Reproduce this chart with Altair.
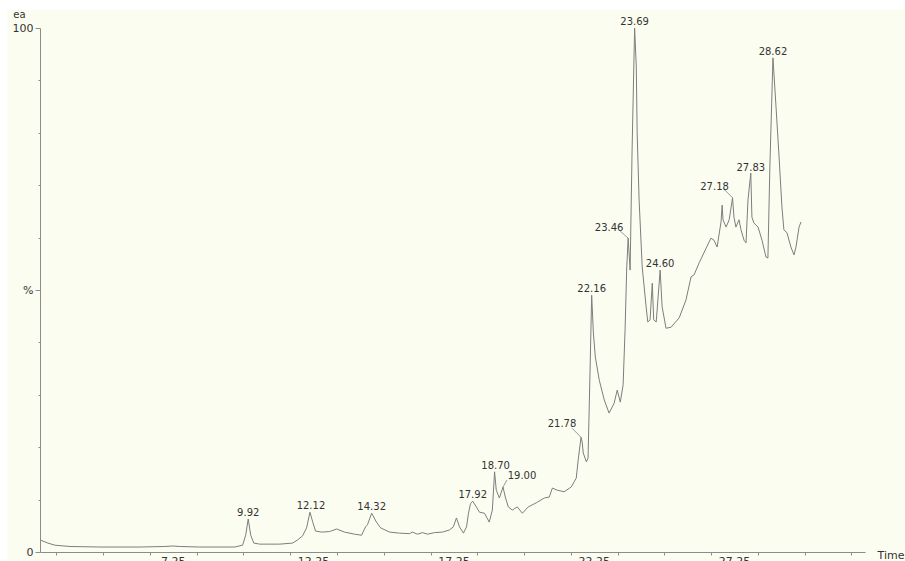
import altair as alt
import pandas as pd

# Chromatogram trace: retention time (min) and relative abundance (%)
rt_min = [
    2.50, 2.78, 3.03, 3.57, 4.64, 6.06, 6.95, 7.23, 7.48, 8.19, 9.44, 9.72, 9.83, 9.92,
    10.01, 10.12, 10.33, 11.04, 11.50, 11.68, 11.86, 12.00, 12.12, 12.22, 12.32, 12.54,
    12.82, 13.07, 13.35, 13.71, 13.96, 14.10, 14.17, 14.32, 14.49, 14.64, 14.96, 15.31,
    15.67, 15.77, 15.95, 16.13, 16.31, 16.56, 16.84, 17.09, 17.23, 17.34, 17.45, 17.59,
    17.70, 17.77, 17.84, 17.92, 18.05, 18.16, 18.34, 18.51, 18.62, 18.70, 18.76, 18.87,
    19.00, 19.08, 19.19, 19.33, 19.51, 19.69, 19.90, 20.19, 20.47, 20.65, 20.76, 20.93,
    21.18, 21.43, 21.61, 21.68, 21.78, 21.82, 21.86, 21.97, 22.03, 22.10, 22.16, 22.22,
    22.29, 22.43, 22.61, 22.78, 22.96, 23.07, 23.18, 23.28, 23.35, 23.41, 23.46, 23.53,
    23.60, 23.69, 23.75, 23.78, 23.85, 23.96, 24.10, 24.16, 24.24, 24.32, 24.37, 24.46,
    24.60, 24.67, 24.81, 24.99, 25.28, 25.52, 25.70, 25.81, 25.99, 26.09, 26.24, 26.41,
    26.52, 26.63, 26.77, 26.81, 26.84, 26.95, 27.06, 27.18, 27.23, 27.30, 27.41, 27.48,
    27.59, 27.66, 27.73, 27.83, 27.87, 27.94, 28.09, 28.23, 28.37, 28.44, 28.51, 28.62,
    28.73, 28.83, 28.94, 29.01, 29.12, 29.26, 29.37, 29.44, 29.55, 29.62,
]
abundance = [
    2.3, 1.7, 1.3, 1.05, 0.95, 0.95, 1.05, 1.15, 1.05, 0.95, 0.95, 1.3, 3.2, 6.3,
    3.2, 1.7, 1.5, 1.5, 1.7, 2.3, 3.1, 4.6, 7.6, 5.7, 4.0, 3.8,
    3.9, 4.4, 3.8, 3.4, 3.2, 4.8, 5.2, 7.4, 5.7, 4.6, 3.8, 3.6,
    3.5, 3.8, 3.4, 3.7, 3.4, 3.7, 3.8, 4.2, 4.8, 6.5, 4.8, 3.6,
    4.8, 7.4, 9.2, 9.7, 8.6, 7.6, 7.4, 5.7, 8.0, 15.3, 11.8, 10.3,
    12.4, 10.5, 8.6, 8.0, 8.6, 7.4, 8.6, 9.4, 10.3, 10.5, 12.2, 11.8,
    11.5, 12.4, 14.1, 17.6, 21.9, 21.0, 18.9, 17.2, 17.9, 34.2, 49.0, 41.8,
    37.2, 32.8, 29.0, 26.5, 28.4, 30.9, 28.6, 31.9, 42.4, 54.4, 59.9, 53.8,
    76.7, 100.0, 92.6, 80.0, 67.2, 54.4, 46.8, 43.9, 44.3, 51.3, 44.3, 43.9,
    53.8, 46.8, 42.7, 42.9, 44.7, 48.1, 52.5, 52.9, 55.2, 56.3, 58.0, 59.9,
    59.5, 58.2, 63.0, 66.2, 63.4, 62.0, 63.4, 67.6, 63.9, 62.0, 63.4, 61.5,
    59.5, 59.0, 67.2, 72.3, 63.9, 62.8, 62.0, 59.5, 56.3, 56.1, 73.5, 94.3,
    84.9, 76.1, 65.8, 61.5, 60.9, 58.2, 56.7, 58.2, 62.0, 63.0,
]

# Labelled peaks (apex retention time and apex abundance)
peak_rt = [9.92, 12.12, 14.32, 17.92, 18.70, 19.00, 21.78, 22.16, 23.46, 23.69, 24.60, 27.18, 27.83, 28.62]
peak_abund = [6.3, 7.6, 7.4, 9.7, 15.3, 12.4, 21.9, 49.0, 59.9, 100.0, 53.8, 67.6, 72.3, 94.3]

# Label placement relative to the apex, in pixels (right / down positive)
label_dx = [0, 1, 0, 0, 1, 19, -19, 0, -19, 0, 0, -18, 0, 0]
label_dy = [-6, -6, -6, -6, -6, -11, -13, -6, -10, -6, -6, -11, -5, -6]
# Short leader lines for the labels set off to one side (pixels from apex)
leader_dx = [0, 0, 0, 0, 0, 4, -9, 0, -8, 0, 0, -9, 0, 0]
leader_dy = [0, 0, 0, 0, 0, -7, -9, 0, -7, 0, 0, -9, 0, 0]

# Axis tick labels
x_tick_values = [7.25, 12.25, 17.25, 22.25, 27.25]
x_tick_labels = ["7.25", "12.25", "17.25", "22.25", "27.25"]
y_tick_labels = {0: "0", 50: "%", 100: "100"}

X_MIN, X_MAX = 2.5, 31.9
W, H = 825, 524
FONT = "DejaVu Sans"
INK = "#333333"
AXIS_GREY = "#8c8c8c"
TRACE_GREY = "#7d7d7d"

# Minor ticks every 5/6 min, aligned on the labelled ticks
step = 5 / 6
x_ticks = [round(7.25 + k * step, 4) for k in range(-6, 32)]
x_ticks = [v for v in x_ticks if X_MIN <= v <= X_MAX]

px_per_min = W / (X_MAX - X_MIN)
px_per_pct = H / 100

trace = pd.DataFrame({"rt": rt_min, "ab": abundance})
peaks = pd.DataFrame({
    "rt": peak_rt,
    "ab": peak_abund,
    "label": [f"{v:.2f}" for v in peak_rt],
})
# Convert pixel nudges into data units so labels and leaders follow the scales
peaks["tx"] = peaks["rt"] + pd.Series(label_dx, dtype=float) / px_per_min
peaks["ty"] = peaks["ab"] - pd.Series(label_dy, dtype=float) / px_per_pct
peaks["lx"] = peaks["rt"] + pd.Series(leader_dx, dtype=float) / px_per_min
peaks["ly"] = peaks["ab"] - pd.Series(leader_dy, dtype=float) / px_per_pct
leaders = peaks[pd.Series(leader_dx) != 0]

xtick_df = pd.DataFrame({"v": x_tick_values, "t": x_tick_labels})

x_scale = alt.Scale(domain=[X_MIN, X_MAX], nice=False, zero=False)
y_scale = alt.Scale(domain=[0, 100], nice=False)

label_expr_y = " : ".join(
    f"datum.value == {k} ? '{v}'" for k, v in y_tick_labels.items()
) + " : ''"

x_axis = alt.Axis(
    values=x_ticks,
    labels=False,
    grid=False,
    zindex=1,
    tickSize=3,
    tickColor=AXIS_GREY,
    domainColor=AXIS_GREY,
    title="Time",
    titleFont=FONT,
    titleFontSize=11,
    titleFontWeight="normal",
    titleColor=INK,
    titleAnchor="start",
    titleAlign="left",
    titleBaseline="middle",
    titleX=837,
    titleY=3,
)
y_axis = alt.Axis(
    values=list(range(0, 101, 10)),
    labelExpr=label_expr_y,
    grid=False,
    zindex=1,
    tickSize={"condition": {"test": "datum.value % 50 === 0", "value": 5}, "value": 2},
    tickColor=AXIS_GREY,
    domainColor=AXIS_GREY,
    labelFont=FONT,
    labelFontSize=11,
    labelColor=INK,
    labelPadding=2,
    title="ea",
    titleFont=FONT,
    titleFontSize=10,
    titleFontWeight="normal",
    titleColor=INK,
    titleAngle=0,
    titleAlign="center",
    titleBaseline="middle",
    titleX=-21,
    titleY=-14,
)

paper = alt.Chart(pd.DataFrame({"k": [0]})).mark_rect(color="#fcfdf1").encode(
    x=alt.value(-33), x2=alt.value(W + 40), y=alt.value(-18), y2=alt.value(H + 10)
)

line = alt.Chart(trace).mark_line(color=TRACE_GREY, strokeWidth=1).encode(
    x=alt.X("rt:Q", scale=x_scale, axis=x_axis),
    y=alt.Y("ab:Q", scale=y_scale, axis=y_axis),
    order="rt:Q",
)

leader_lines = alt.Chart(leaders).mark_rule(color=TRACE_GREY, strokeWidth=0.8).encode(
    x=alt.X("rt:Q", scale=x_scale),
    y=alt.Y("ab:Q", scale=y_scale),
    x2="lx:Q",
    y2="ly:Q",
)

labels = alt.Chart(peaks).mark_text(
    font=FONT, fontSize=10, color=INK, baseline="middle", align="center"
).encode(
    x=alt.X("tx:Q", scale=x_scale),
    y=alt.Y("ty:Q", scale=y_scale),
    text="label:N",
)

# Time tick labels sit just under the axis line
x_labels = alt.Chart(xtick_df).mark_text(
    font=FONT, fontSize=11, color=INK, baseline="top", align="center"
).encode(
    x=alt.X("v:Q", scale=x_scale),
    y=alt.value(H + 4),
    text="t:N",
)

chart = alt.layer(paper, line, leader_lines, labels, x_labels).properties(
    width=W,
    height=H,
    autosize=alt.AutoSizeParams(type="none"),
    padding={"left": 40, "top": 28, "right": 40, "bottom": 9},
    background="#ffffff",
).configure_view(stroke=None)

chart.save("out.html", embed_options={"renderer": "svg", "actions": False})
